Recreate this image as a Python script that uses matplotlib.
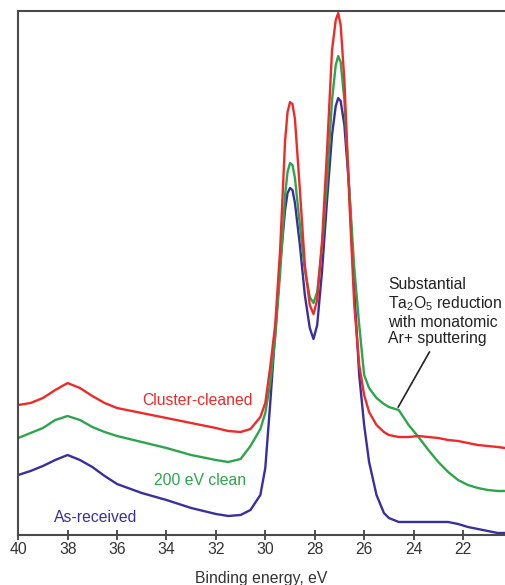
import matplotlib
matplotlib.use("Agg")
import matplotlib.pyplot as plt

plt.rcParams['font.family'] = ['Liberation Sans', 'DejaVu Sans']
plt.rcParams['mathtext.default'] = 'regular'

# binding energy grid (eV) and intensities (a.u.)
energy = [40, 39.5, 39, 38.5, 38, 37.5, 37, 36.5, 36, 35, 34, 33, 32, 31.5, 31,
          30.6, 30.2, 30.0, 29.8, 29.6, 29.4, 29.2, 29.1, 29.0, 28.9, 28.8, 28.6,
          28.4, 28.2, 28.05, 27.9, 27.7, 27.5, 27.3, 27.15, 27.05, 26.95, 26.8,
          26.6, 26.4, 26.2, 26.0, 25.8, 25.5, 25.2, 25.0, 24.6, 24.2, 23.8, 23.4,
          23.0, 22.6, 22.2, 21.8, 21.4, 21.0, 20.6, 20.3]

cluster_cleaned = [130, 132, 137, 145, 152, 147, 139, 132, 127, 122, 117, 112, 107,
                   104, 103, 106, 118, 132, 168, 210, 285, 394, 423, 433, 431, 416,
                   345, 270, 230, 221, 235, 295, 385, 485, 515, 522, 510, 455, 335,
                   230, 170, 140, 123, 110, 103, 100, 98, 98, 99, 98, 97, 95, 94, 92,
                   90, 89, 88, 87]

clean_200eV = [97, 102, 107, 115, 119, 115, 108, 103, 99, 93, 87, 80, 75, 73, 76,
               89, 106, 122, 152, 197, 262, 340, 363, 372, 370, 357, 310, 265, 238,
               232, 243, 290, 355, 435, 470, 479, 473, 435, 345, 267, 210, 160, 147,
               137, 131, 128, 125, 110, 98, 85, 73, 63, 55, 50, 47, 45, 44, 44]

as_received = [60, 64, 69, 75, 80, 75, 68, 59, 51, 42, 35, 27, 21, 19, 20, 25, 40,
               67, 132, 202, 270, 325, 342, 347, 345, 332, 290, 240, 207, 196, 210,
               265, 335, 400, 429, 437, 434, 410, 345, 245, 160, 110, 73, 40, 22, 17,
               13, 13, 13, 13, 13, 13, 11, 8, 6, 4, 2, 2]

xticks = [40, 38, 36, 34, 32, 30, 28, 26, 24, 22]

RED = '#ee2a2a'
GREEN = '#2ea44c'
BLUE = '#3b2f9e'
DARK = '#333333'

fig = plt.figure(figsize=(5.05, 5.85), dpi=100)
ax = fig.add_axes([0.036, 0.0855, 0.964, 0.8955])

ax.plot(energy, as_received, color=BLUE, lw=1.7)
ax.plot(energy, clean_200eV, color=GREEN, lw=1.7)
ax.plot(energy, cluster_cleaned, color=RED, lw=1.7)

ax.set_xlim(40, 20.3)
ax.set_ylim(0, 524)
ax.set_xticks(xticks)
ax.set_yticks([])
ax.spines['right'].set_visible(False)
for s in ['left', 'top', 'bottom']:
    ax.spines[s].set_color('#4a4a4a')
    ax.spines[s].set_linewidth(1.5)
ax.tick_params(axis='x', direction='inout', length=7, width=1.2, color=DARK,
               labelcolor=DARK, labelsize=11.3, pad=1.5)
ax.set_xlabel('Binding energy, eV', fontsize=11.3, color=DARK, labelpad=10)

ax.text(32.75, 135, 'Cluster-cleaned', color=RED, fontsize=11.3, ha='center', va='center')
ax.text(32.63, 54, '200 eV clean', color=GREEN, fontsize=11.3, ha='center', va='center')
ax.text(36.88, 17, 'As-received', color=BLUE, fontsize=11.3, ha='center', va='center')

ax.text(25.02, 258, 'Substantial\nTa$_2$O$_5$ reduction\nwith monatomic\nAr+ sputtering',
        color='#222222', fontsize=11.3, ha='left', va='top', linespacing=1.15)
ax.plot([23.36, 24.62], [183, 128], color='#222222', lw=1.2)

fig.savefig('out.png', dpi=100)
